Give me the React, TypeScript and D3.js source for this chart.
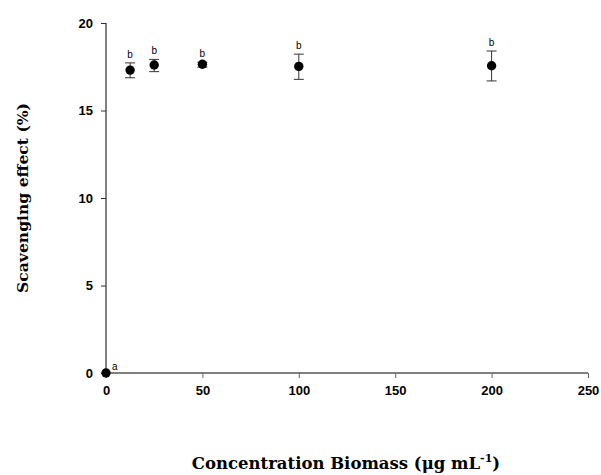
import React, { useEffect, useRef } from 'react';
import * as d3 from 'd3';

const concentrations = [0, 12.5, 25, 50, 100, 200];
const scavenging = [0, 17.31, 17.6, 17.64, 17.52, 17.56];
const errLow = [0, 16.87, 17.22, 17.48, 16.78, 16.69];
const errHigh = [0, 17.72, 17.92, 17.76, 18.22, 18.4];
const letters = ['a', 'b', 'b', 'b', 'b', 'b'];
const xTicks = [0, 50, 100, 150, 200, 250];
const yTicks = [0, 5, 10, 15, 20];

const App = () => {
  const svgRef = useRef<SVGSVGElement>(null);

  useEffect(() => {
    const svg = d3.select(svgRef.current);
    svg.selectAll('*').remove();

    const x = d3.scaleLinear().domain([0, 250]).range([106, 588]);
    const y = d3.scaleLinear().domain([0, 20]).range([373, 23]);

    const xAxis = svg.append('g')
      .attr('transform', 'translate(0,373)')
      .call(d3.axisBottom(x).tickValues(xTicks).tickSize(5).tickPadding(8).tickFormat(d3.format('d')));
    xAxis.select('.domain').attr('d', `M${x(0)},0H${x(250)}`).attr('stroke', '#000');
    xAxis.selectAll('.tick line').attr('stroke', '#666');
    xAxis.selectAll('text')
      .attr('font-family', 'Liberation Sans, Arial, sans-serif')
      .attr('font-weight', 'bold')
      .attr('font-size', 13)
      .attr('fill', '#000');

    const yAxis = svg.append('g')
      .attr('transform', 'translate(106,0)')
      .call(d3.axisLeft(y).tickValues(yTicks).tickSize(5).tickPadding(8));
    yAxis.select('.domain').attr('d', `M0,${y(20)}V${y(0)}`).attr('stroke', '#000');
    yAxis.selectAll('.tick line').attr('stroke', '#333');
    yAxis.selectAll('text')
      .attr('font-family', 'Liberation Sans, Arial, sans-serif')
      .attr('font-weight', 'bold')
      .attr('font-size', 13)
      .attr('fill', '#000');

    const pts = concentrations.map((c, i) => ({
      c, v: scavenging[i], lo: errLow[i], hi: errHigh[i], l: letters[i],
    }));

    const g = svg.append('g');
    const bars = pts.filter(d => d.hi > d.lo);
    g.selectAll('.stem').data(bars).join('line')
      .attr('x1', d => x(d.c)).attr('x2', d => x(d.c))
      .attr('y1', d => y(d.lo)).attr('y2', d => y(d.hi))
      .attr('stroke', '#333').attr('stroke-width', 1);
    g.selectAll('.capHi').data(bars).join('line')
      .attr('x1', d => x(d.c) - 5).attr('x2', d => x(d.c) + 5)
      .attr('y1', d => y(d.hi)).attr('y2', d => y(d.hi))
      .attr('stroke', '#333').attr('stroke-width', 1);
    g.selectAll('.capLo').data(bars).join('line')
      .attr('x1', d => x(d.c) - 5).attr('x2', d => x(d.c) + 5)
      .attr('y1', d => y(d.lo)).attr('y2', d => y(d.lo))
      .attr('stroke', '#333').attr('stroke-width', 1);

    g.selectAll('circle').data(pts).join('circle')
      .attr('cx', d => x(d.c)).attr('cy', d => y(d.v))
      .attr('r', 4.7).attr('fill', '#000');

    g.selectAll('.letter').data(pts).join('text')
      .attr('x', d => d.c === 0 ? x(d.c) + 6 : x(d.c))
      .attr('y', d => d.c === 0 ? y(d.v) - 3 : y(d.hi) - 5)
      .attr('text-anchor', d => d.c === 0 ? 'start' : 'middle')
      .attr('font-family', 'Liberation Sans, Arial, sans-serif')
      .attr('font-size', 10)
      .attr('fill', '#000')
      .text(d => d.l);

    const title = svg.append('text')
      .attr('x', 346).attr('y', 469)
      .attr('text-anchor', 'middle')
      .attr('font-family', 'DejaVu Serif, Liberation Serif, serif')
      .attr('font-weight', 'bold')
      .attr('font-size', 16.5);
    title.append('tspan').text('Concentration Biomass (μg mL');
    title.append('tspan').attr('dy', -7).attr('font-size', 11).text('-1');
    title.append('tspan').attr('dy', 7).text(')');

    svg.append('text')
      .attr('transform', 'translate(28,198) rotate(-90)')
      .attr('text-anchor', 'middle')
      .attr('font-family', 'DejaVu Serif, Liberation Serif, serif')
      .attr('font-weight', 'bold')
      .attr('font-size', 15.6)
      .text('Scavenging effect (%)');
  }, []);

  return (
    <svg ref={svgRef} width={601} height={475}
      style={{ position: 'absolute', left: 0, top: 0, background: '#fff' }} />
  );
};

export default App;
